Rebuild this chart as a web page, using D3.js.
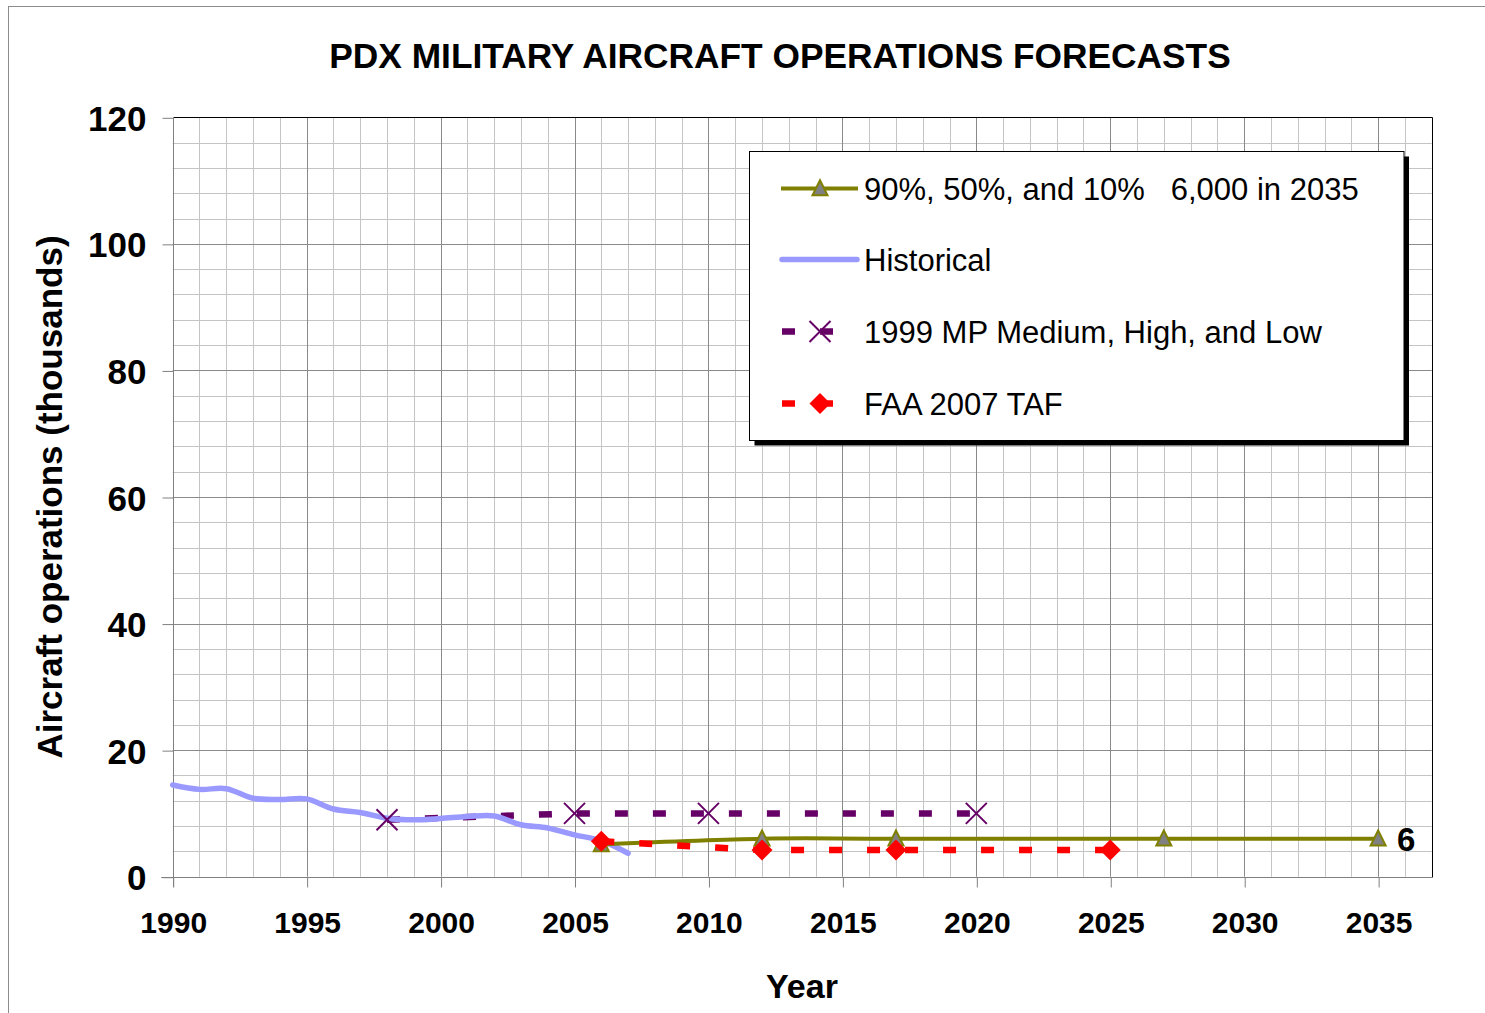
<!DOCTYPE html>
<html>
<head>
<meta charset="utf-8">
<script src="https://cdn.jsdelivr.net/npm/d3@7"></script>
<style>
  html, body { margin: 0; padding: 0; background: #fff; }
  text { font-family: "Liberation Sans", Arial, Helvetica, sans-serif; }
</style>
</head>
<body>
<svg id="chart" width="1485" height="1013"></svg>
<script>
// ---------- DATA ----------
const title = "PDX MILITARY AIRCRAFT OPERATIONS FORECASTS";
const yTitle = "Aircraft operations (thousands)";
const xTitle = "Year";

const histYears  = [1990,1991,1992,1993,1994,1995,1996,1997,1998,1999,2000,2001,2002,2003,2004,2005,2006,2007];
const histValues = [14.5,13.8,13.9,12.4,12.2,12.3,10.7,10.15,9.25,9.0,9.2,9.5,9.6,8.2,7.7,6.6,5.7,3.7];

const fcstYears  = [2006,2012,2017,2027,2035];
const fcstValues = [5.1,6.0,6.0,6.0,6.0];

const mpYears  = [1998,2005,2010,2020];
const mpValues = [9.0,10.0,10.0,10.0];

const tafYears  = [2006,2012,2017,2025];
const tafValues = [5.6,4.2,4.2,4.2];

const xTickValues = [1990,1995,2000,2005,2010,2015,2020,2025,2030,2035];
const yTickValues = [0,20,40,60,80,100,120];
const endLabel = "6";

const legendLabels = [
  "90%, 50%, and 10%   6,000 in 2035",
  "Historical",
  "1999 MP Medium, High, and Low",
  "FAA 2007 TAF"
];

// ---------- LAYOUT ----------
const svg = d3.select("#chart");
const L = 172.7, R = 1431.7, T = 117.3, B = 876.7;
const x = d3.scaleLinear().domain([1990, 2037]).range([L, R]);
const y = d3.scaleLinear().domain([0, 120]).range([B, T]);

const C = { olive: "#808000", blue: "#9999FF", purple: "#660066", red: "#FF0000" };

// chart area border
svg.append("rect").attr("x", 8.5).attr("y", 6.5).attr("width", 1600).attr("height", 1100)
  .attr("fill", "#fff").attr("stroke", "#8c8c8c").attr("stroke-width", 1);

// grid
const g = svg.append("g");
const minorX = d3.range(1991, 2037).filter(v => v % 5 !== 0);
const majorX = d3.range(1995, 2037, 5);
const minorY = d3.range(4, 120, 4).filter(v => v % 20 !== 0);
const majorY = d3.range(20, 120, 20);
const crisp = v => Math.round(v) + 0.5;

g.selectAll(".mx").data(minorX).join("line")
  .attr("x1", d => crisp(x(d))).attr("x2", d => crisp(x(d)))
  .attr("y1", T).attr("y2", B).attr("stroke", "#c4c4c4");
g.selectAll(".my").data(minorY).join("line")
  .attr("y1", d => crisp(y(d))).attr("y2", d => crisp(y(d)))
  .attr("x1", L).attr("x2", R).attr("stroke", "#c4c4c4");
g.selectAll(".Mx").data(majorX).join("line")
  .attr("x1", d => crisp(x(d))).attr("x2", d => crisp(x(d)))
  .attr("y1", T).attr("y2", B).attr("stroke", "#8a8a8a");
g.selectAll(".My").data(majorY).join("line")
  .attr("y1", d => crisp(y(d))).attr("y2", d => crisp(y(d)))
  .attr("x1", L).attr("x2", R).attr("stroke", "#8a8a8a");

// plot border (top/right black)
svg.append("path")
  .attr("d", `M${crisp(L)},${crisp(T)}H${crisp(R)}V${crisp(B)}`)
  .attr("fill", "none").attr("stroke", "#000");

// axes
const xAxis = d3.axisBottom(x).tickValues(xTickValues).tickFormat(d3.format("d")).tickSize(10).tickPadding(24);
const yAxis = d3.axisLeft(y).tickValues(yTickValues).tickFormat(d3.format("d")).tickSize(11).tickPadding(16);

const gx = svg.append("g").attr("transform", `translate(0.5,${crisp(B)})`).call(xAxis);
gx.select(".domain").attr("d", `M${L - 12},0H${R}`).attr("stroke", "#808080");
gx.selectAll(".tick line").attr("stroke", "#808080");
gx.selectAll(".tick text").attr("font-size", 30).attr("font-weight", "bold")
  .attr("font-family", '"Liberation Sans", Arial, sans-serif').attr("fill", "#000");

const gy = svg.append("g").attr("transform", `translate(${crisp(L)},0.5)`).call(yAxis);
gy.select(".domain").attr("d", `M0,${T}V${B + 10}`).attr("stroke", "#808080");
gy.selectAll(".tick line").attr("stroke", "#808080");
gy.selectAll(".tick text").attr("font-size", 35).attr("font-weight", "bold")
  .attr("font-family", '"Liberation Sans", Arial, sans-serif').attr("fill", "#000")
  .attr("dy", "0.36em");

// ---------- SERIES ----------
const smooth = d3.curveCatmullRom.alpha(0);
const histData = histYears.map((d, i) => [d, histValues[i]]);
const fcstData = fcstYears.map((d, i) => [d, fcstValues[i]]);
const mpData = mpYears.map((d, i) => [d, mpValues[i]]);
const tafData = tafYears.map((d, i) => [d, tafValues[i]]);

const lineSmooth = d3.line().x(d => x(d[0])).y(d => y(d[1])).curve(smooth);
const lineStraight = d3.line().x(d => x(d[0])).y(d => y(d[1]));

const plot = svg.append("g");

// 1999 MP (purple dashed)
plot.append("path").attr("d", lineStraight(mpData)).attr("fill", "none")
  .attr("stroke", C.purple).attr("stroke-width", 6.5).attr("stroke-dasharray", "13,25");

// Historical
plot.append("path").attr("d", lineSmooth(histData)).attr("fill", "none")
  .attr("stroke", C.blue).attr("stroke-width", 5.5).attr("stroke-linecap", "round");

// Forecast olive
plot.append("path").attr("d", lineSmooth(fcstData)).attr("fill", "none")
  .attr("stroke", C.olive).attr("stroke-width", 4);

// FAA TAF red dashed
plot.append("path").attr("d", lineStraight(tafData)).attr("fill", "none")
  .attr("stroke", C.red).attr("stroke-width", 6.5).attr("stroke-dasharray", "13,25");

// marker shapes
const triPath = (cx, cy, s) => `M${cx},${cy - s * 0.55}L${cx + s / 2},${cy + s * 0.45}L${cx - s / 2},${cy + s * 0.45}Z`;
const diaPath = (cx, cy, s) => `M${cx},${cy - s / 2}L${cx + s / 2},${cy}L${cx},${cy + s / 2}L${cx - s / 2},${cy}Z`;
const xPath = (cx, cy, s) => `M${cx - s / 2},${cy - s / 2}L${cx + s / 2},${cy + s / 2}M${cx + s / 2},${cy - s / 2}L${cx - s / 2},${cy + s / 2}`;

plot.selectAll(".tri").data(fcstData).join("path")
  .attr("d", d => triPath(x(d[0]), y(d[1]), 15))
  .attr("fill", "#808080").attr("stroke", C.olive).attr("stroke-width", 2);

plot.selectAll(".xm").data(mpData).join("path")
  .attr("d", d => xPath(x(d[0]), y(d[1]), 21))
  .attr("fill", "none").attr("stroke", C.purple).attr("stroke-width", 2);

plot.selectAll(".dia").data(tafData).join("path")
  .attr("d", d => diaPath(x(d[0]), y(d[1]), 21))
  .attr("fill", C.red);

// end label
const last = fcstData[fcstData.length - 1];
svg.append("text").attr("x", x(last[0]) + 28).attr("y", y(last[1]) + 12)
  .attr("text-anchor", "middle").attr("font-size", 33).attr("font-weight", "bold").text(endLabel);

// ---------- TITLES ----------
svg.append("text").attr("x", 780).attr("y", 68).attr("text-anchor", "middle")
  .attr("font-size", 35.3).attr("font-weight", "bold").text(title);

svg.append("text").attr("transform", `translate(62,${(T + B) / 2}) rotate(-90)`)
  .attr("text-anchor", "middle").attr("font-size", 35).attr("font-weight", "bold").text(yTitle);

svg.append("text").attr("x", 802).attr("y", 998).attr("text-anchor", "middle")
  .attr("font-size", 34).attr("font-weight", "bold").text(xTitle);

// ---------- LEGEND ----------
const lg = svg.append("g");
const lx = 749.5, ly = 151.5, lw = 654.5, lh = 289;
lg.append("rect").attr("x", lx + 5).attr("y", ly + 5).attr("width", lw).attr("height", lh).attr("fill", "#000");
lg.append("rect").attr("x", lx).attr("y", ly).attr("width", lw).attr("height", lh)
  .attr("fill", "#fff").attr("stroke", "#000").attr("stroke-width", 1);

const rowY = [188.5, 259.5, 331.5, 403.5];
const sx1 = 781, sx2 = 858, sxm = 820;

// row 1 olive
lg.append("line").attr("x1", sx1).attr("x2", sx2).attr("y1", rowY[0]).attr("y2", rowY[0])
  .attr("stroke", C.olive).attr("stroke-width", 4);
lg.append("path").attr("d", triPath(sxm, rowY[0], 15)).attr("fill", "#808080").attr("stroke", C.olive).attr("stroke-width", 2);
// row 2 blue
lg.append("line").attr("x1", sx1 + 1).attr("x2", sx2 - 1).attr("y1", rowY[1]).attr("y2", rowY[1])
  .attr("stroke", C.blue).attr("stroke-width", 5.5).attr("stroke-linecap", "round");
// row 3 purple
lg.append("line").attr("x1", sx1 + 1).attr("x2", 833).attr("y1", rowY[2]).attr("y2", rowY[2])
  .attr("stroke", C.purple).attr("stroke-width", 6.5).attr("stroke-dasharray", "13,25");
lg.append("path").attr("d", xPath(sxm, rowY[2], 21)).attr("fill", "none").attr("stroke", C.purple).attr("stroke-width", 2);
// row 4 red
lg.append("line").attr("x1", sx1 + 1).attr("x2", 833).attr("y1", rowY[3]).attr("y2", rowY[3])
  .attr("stroke", C.red).attr("stroke-width", 6.5).attr("stroke-dasharray", "13,25");
lg.append("path").attr("d", diaPath(sxm, rowY[3], 21)).attr("fill", C.red);

lg.selectAll(".lt").data(legendLabels).join("text")
  .attr("x", 864).attr("y", (d, i) => rowY[i] + 11.5)
  .attr("font-size", 31).attr("xml:space", "preserve").style("white-space", "pre")
  .text(d => d);
</script>
</body>
</html>
